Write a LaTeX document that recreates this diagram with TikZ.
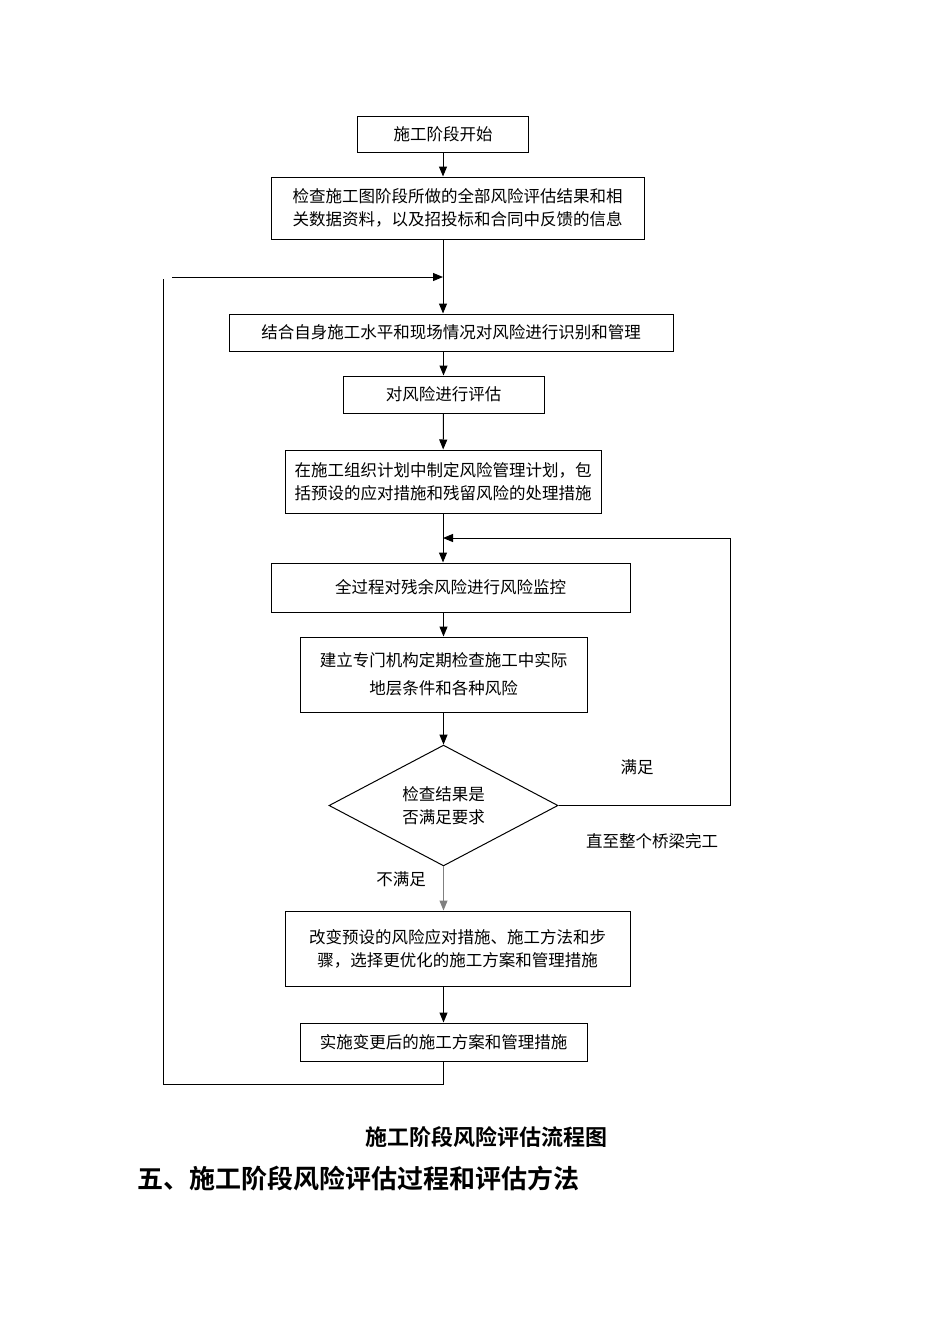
\documentclass[tikz,border=0pt]{standalone}
\usepackage{fontspec}
\setmainfont{Noto Sans CJK SC}[BoldFont={Noto Sans CJK SC Bold}]
\usetikzlibrary{shapes.geometric,arrows.meta}

\begin{document}
\begin{tikzpicture}[x=1pt,y=-1pt,line width=1pt]
    \tikzstyle{box_style}=[rectangle, draw, inner sep=0pt, align=center, font=\fontsize{16.5}{23}\selectfont]
    \tikzstyle{decision_style}=[diamond, draw, inner sep=0pt, align=center, font=\fontsize{16.5}{23}\selectfont]
    \tikzstyle{arrow_style}=[-{Triangle[length=10pt,width=8pt]}]
    \tikzstyle{label_style}=[font=\fontsize{16.5}{20}\selectfont]
    \useasboundingbox (0,0) rectangle (950,1344);

    % boxes
    \draw node at (443,134) [box_style, minimum width=171, minimum height=36] (box_start) {施工阶段开始};
    \draw node at (457.5,208) [box_style, minimum width=373, minimum height=62] (box_check) {检查施工图阶段所做的全部风险评估结果和相\\关数据资料，以及招投标和合同中反馈的信息};
    \draw node at (451,332.5) [box_style, minimum width=444, minimum height=37] (box_ident) {结合自身施工水平和现场情况对风险进行识别和管理};
    \draw node at (443.5,394.5) [box_style, minimum width=201, minimum height=37] (box_eval) {对风险进行评估};
    \draw node at (443,481.5) [box_style, minimum width=316, minimum height=63] (box_plan) {在施工组织计划中制定风险管理计划，包\\括预设的应对措施和残留风险的处理措施};
    \draw node at (450.5,587.5) [box_style, minimum width=359, minimum height=49] (box_monitor) {全过程对残余风险进行风险监控};
    \draw node at (443.5,674.5) [box_style, minimum width=287, minimum height=75, font=\fontsize{16.5}{28}\selectfont] (box_inspect) {建立专门机构定期检查施工中实际\\地层条件和各种风险};
    \draw node at (443.5,805.5) [decision_style, minimum width=229, minimum height=111] (dec_ok) {检查结果是\\否满足要求};
    \draw node at (457.5,948.5) [box_style, minimum width=345, minimum height=75] (box_change) {改变预设的风险应对措施、施工方法和步\\骤，选择更优化的施工方案和管理措施};
    \draw node at (443.5,1042) [box_style, minimum width=287, minimum height=38] (box_impl) {实施变更后的施工方案和管理措施};

    % junctions
    \coordinate (join_top) at (443,277);
    \coordinate (join_mid) at (443,538);
    \coordinate (loop_right) at (730,538);
    \coordinate (loop_left) at (163,1084);

    % connect: main flow
    \draw[arrow_style] (box_start) -- (box_start.south |- box_check.north);
    \draw (box_start.south |- box_check.south) -- (join_top);
    \draw[arrow_style] (join_top) -- (join_top |- box_ident.north);
    \draw[arrow_style] (box_eval.north |- box_ident.south) -- (box_eval);
    \draw[arrow_style] (box_eval) -- (box_plan);
    \draw (box_plan) -- (join_mid);
    \draw[arrow_style] (join_mid) -- (join_mid |- box_monitor.north);
    \draw[arrow_style] (box_inspect.north |- box_monitor.south) -- (box_inspect);
    \draw[arrow_style] (box_inspect) -- (dec_ok);
    \draw[arrow_style, gray] (dec_ok) -- (dec_ok.south |- box_change.north);
    \draw[arrow_style] (box_impl.north |- box_change.south) -- (box_impl);

    % connect: loops
    \draw[arrow_style] (dec_ok.east) -| (loop_right) -- (join_mid);
    \draw (box_impl) |- (loop_left) -- (163,279);
    \draw[arrow_style] (172,277) -- (join_top);

    % labels
    \node at (637,767) [label_style] (lbl_yes) {满足};
    \node at (652,841) [label_style] (lbl_until) {直至整个桥梁完工};
    \node at (401,879) [label_style] (lbl_no) {不满足};

    % caption and heading
    \node at (486,1137) [font=\fontsize{22}{24}\selectfont\bfseries] (caption) {施工阶段风险评估流程图};
    \node at (137,1178) [anchor=west, inner sep=0pt, font=\fontsize{26}{28}\selectfont\bfseries] (heading) {五、施工阶段风险评估过程和评估方法};
\end{tikzpicture}
\end{document}
